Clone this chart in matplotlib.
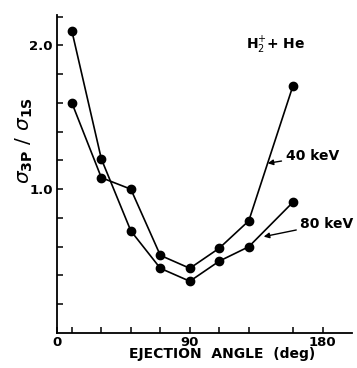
import numpy as np
import matplotlib
matplotlib.use('Agg')
import matplotlib.pyplot as plt
from matplotlib.ticker import FixedLocator

# Ejection angles (deg) and cross-section ratios
angles = [10, 30, 50, 70, 90, 110, 130, 160]
ratio_40kev = [1.60, 1.08, 1.00, 0.54, 0.45, 0.59, 0.78, 1.72]
ratio_80kev = [2.10, 1.21, 0.71, 0.45, 0.36, 0.50, 0.60, 0.91]

x_major = [0, 90, 180]
x_major_labels = ['0', '90', '180']
x_minor = [10, 30, 50, 70, 110, 130, 160]
y_major = [1.0, 2.0]
y_major_labels = ['1.0', '2.0']
y_minor = [0.2, 0.4, 0.6, 0.8, 1.2, 1.4, 1.6, 1.8, 2.2]

plt.rcParams['font.family'] = ['DejaVu Sans']
plt.rcParams['mathtext.fontset'] = 'dejavusans'

fig = plt.figure(figsize=(3.57, 3.68), dpi=100)
ax = fig.add_axes([0.160, 0.095, 0.826, 0.864])

style = dict(color='black', lw=1.2, marker='o', markersize=6,
             markerfacecolor='black', markeredgecolor='black', clip_on=False)
ax.plot(angles, ratio_40kev, **style)
ax.plot(angles, ratio_80kev, **style)

ax.set_xlim(0, 200)
ax.set_ylim(0, 2.21)

for s in ['top', 'right']:
    ax.spines[s].set_visible(False)
for s in ['left', 'bottom']:
    ax.spines[s].set_linewidth(1.3)

ax.xaxis.set_major_locator(FixedLocator(x_major))
ax.set_xticklabels(x_major_labels)
ax.xaxis.set_minor_locator(FixedLocator(x_minor))
ax.yaxis.set_major_locator(FixedLocator(y_major))
ax.set_yticklabels(y_major_labels)
ax.yaxis.set_minor_locator(FixedLocator(y_minor))

ax.tick_params(which='both', direction='in', length=4.5, width=1.1, color='black')
ax.tick_params(axis='x', which='major', pad=2, labelsize=9.5)
ax.tick_params(axis='y', which='major', pad=3, labelsize=9.5)
for lab in ax.get_xticklabels() + ax.get_yticklabels():
    lab.set_fontweight('bold')

ax.set_xlabel('EJECTION  ANGLE  (deg)', fontsize=10, fontweight='bold', labelpad=0)
ax.xaxis.set_label_coords(0.56, -0.045)
ax.set_ylabel(r'$\sigma_{\mathbf{3P}}\ /\ \sigma_{\mathbf{1S}}$', fontsize=14.5)
ax.yaxis.set_label_coords(-0.075, 0.605)

ax.text(128, 2.0, r'H$_2^{+}$+ He', fontsize=10, fontweight='bold', va='center', ha='left')

arrow = dict(arrowstyle='-|>', mutation_scale=8, color='black', lw=1.0, shrinkA=1, shrinkB=0)
ax.annotate('40 keV', xy=(142.8, 1.18), xytext=(155, 1.23),
            fontsize=10, fontweight='bold', va='center', ha='left', arrowprops=arrow)
ax.annotate('80 keV', xy=(140.1, 0.67), xytext=(165, 0.76),
            fontsize=10, fontweight='bold', va='center', ha='left', annotation_clip=False,
            arrowprops=arrow)

fig.savefig('out.png', dpi=100)
